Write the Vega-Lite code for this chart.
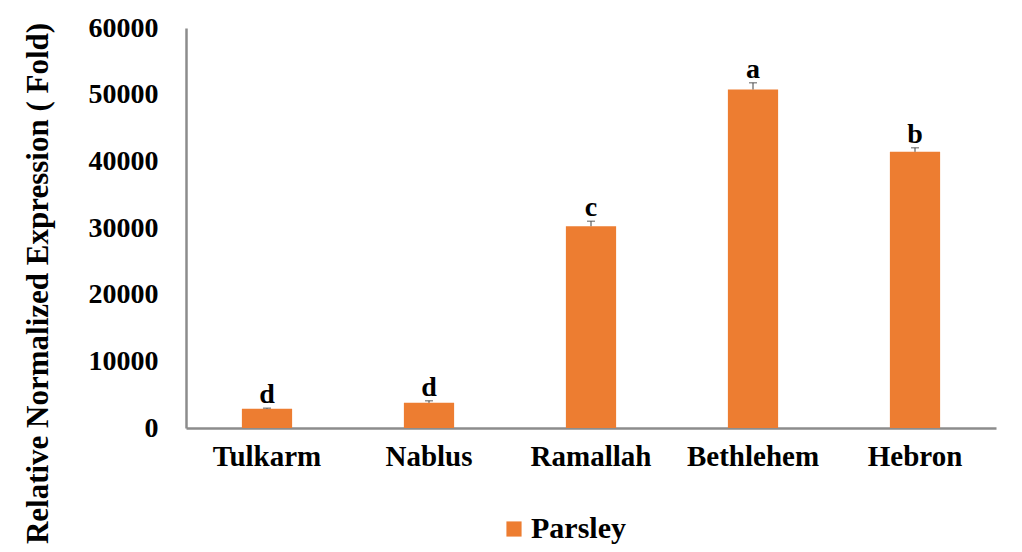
{
  "$schema": "https://vega.github.io/schema/vega-lite/v6.json",
  "width": 810,
  "height": 400,
  "autosize": {"type": "none"},
  "padding": {"left": 186, "top": 28, "right": 26, "bottom": 124},
  "background": "white",
  "config": {
    "view": {"stroke": null},
    "font": "Liberation Serif"
  },
  "data": {
    "values": [
      {"region": "Tulkarm", "value": 2880, "err": 100, "group": "d", "series": "Parsley"},
      {"region": "Nablus", "value": 3780, "err": 300, "group": "d", "series": "Parsley"},
      {"region": "Ramallah", "value": 30270, "err": 750, "group": "c", "series": "Parsley"},
      {"region": "Bethlehem", "value": 50780, "err": 1000, "group": "a", "series": "Parsley"},
      {"region": "Hebron", "value": 41430, "err": 600, "group": "b", "series": "Parsley"}
    ]
  },
  "encoding": {
    "x": {
      "field": "region",
      "type": "nominal",
      "sort": null,
      "scale": {"paddingInner": 0.69, "paddingOuter": 0.345},
      "axis": {
        "title": null,
        "labelAngle": 0,
        "ticks": false,
        "domainColor": "#8c8c8c",
        "domainWidth": 2.5,
        "labelFont": "Liberation Serif",
        "labelFontWeight": "bold",
        "labelFontSize": 29,
        "labelColor": "#000000",
        "labelPadding": 14
      }
    }
  },
  "layer": [
    {
      "mark": {"type": "bar", "color": "#ED7D31"},
      "encoding": {
        "y": {
          "field": "value",
          "type": "quantitative",
          "scale": {"domain": [0, 60000], "nice": false},
          "axis": {
            "values": [0, 10000, 20000, 30000, 40000, 50000, 60000],
            "format": "d",
            "grid": false,
            "ticks": false,
            "domainColor": "#8c8c8c",
            "domainWidth": 2.5,
            "labelFont": "Liberation Serif",
            "labelFontWeight": "bold",
            "labelFontSize": 28,
            "labelColor": "#000000",
            "labelPadding": 28,
            "title": "Relative Normalized Expression ( Fold)",
            "titleFont": "Liberation Serif",
            "titleFontWeight": "bold",
            "titleFontSize": 31,
            "titleColor": "#000000",
            "titlePadding": 34,
            "titleY": 255
          }
        },
        "fill": {
          "field": "series",
          "type": "nominal",
          "scale": {"range": ["#ED7D31"]},
          "legend": {
            "title": null,
            "orient": "none",
            "legendX": 313,
            "legendY": 486,
            "symbolType": "square",
            "symbolSize": 230,
            "symbolStrokeWidth": 0,
            "labelFont": "Liberation Serif",
            "labelFontWeight": "bold",
            "labelFontSize": 30,
            "labelColor": "#000000",
            "labelOffset": 2,
            "padding": 0
          }
        }
      }
    },
    {
      "mark": {"type": "rule", "color": "#404040", "strokeWidth": 1},
      "encoding": {
        "y": {"field": "value", "type": "quantitative"},
        "y2": {"field": "top"}
      },
      "transform": [{"calculate": "datum.value + datum.err", "as": "top"}]
    },
    {
      "mark": {"type": "tick", "color": "#404040", "thickness": 1.2, "size": 8},
      "encoding": {
        "y": {"field": "top", "type": "quantitative"}
      },
      "transform": [{"calculate": "datum.value + datum.err", "as": "top"}]
    },
    {
      "mark": {"type": "text", "font": "Liberation Serif", "fontWeight": "bold", "fontSize": 28, "baseline": "alphabetic", "dy": -5, "color": "#000000"},
      "encoding": {
        "y": {"field": "top", "type": "quantitative"},
        "text": {"field": "group"}
      },
      "transform": [{"calculate": "datum.value + datum.err", "as": "top"}]
    }
  ]
}
